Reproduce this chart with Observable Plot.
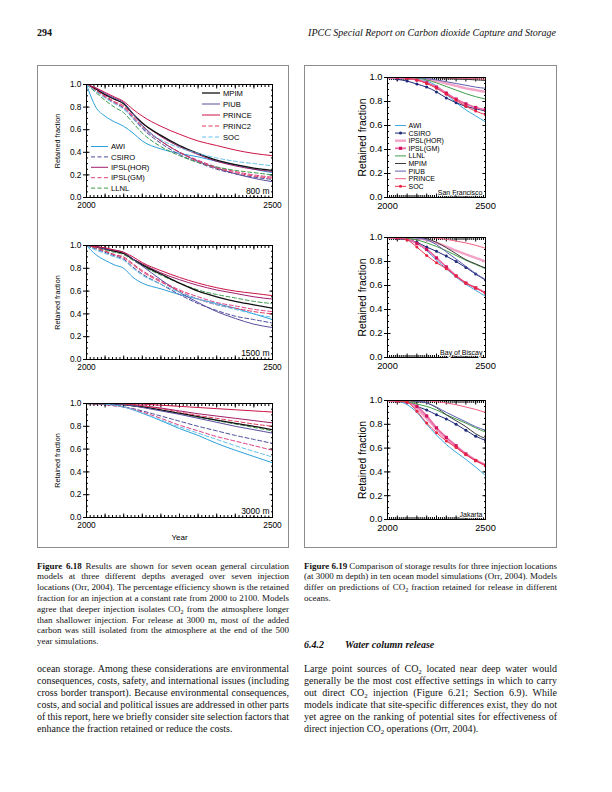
<!DOCTYPE html>
<html><head><meta charset="utf-8">
<script src="https://cdn.jsdelivr.net/npm/d3@7"></script>
<script src="https://cdn.jsdelivr.net/npm/@observablehq/plot@0.6"></script>
<style>
body{margin:0;background:#fff;width:612px;height:792px;position:relative;overflow:hidden;font-family:"Liberation Serif","Times New Roman",serif;color:#111}
.box{position:absolute;border:1px solid #8c8c8c;box-sizing:border-box}
sub{font-size:0.68em;vertical-align:-0.3em;line-height:0}
</style></head><body>
<script>
// ---------- DATA ----------
const years18 = [2000, 2025, 2050, 2075, 2100, 2125, 2150, 2200, 2250, 2300, 2350, 2400, 2450, 2500];
const models18 = ["AWI","CSIRO","IPSL(HOR)","IPSL(GM)","LLNL","MPIM","PIUB","PRINCE","PRINC2","SOC"];
const r800 = [
 [1.0,0.80,0.72,0.67,0.63,0.57,0.50,0.43,0.39,0.36,0.32,0.29,0.25,0.22],
 [1.0,0.95,0.89,0.84,0.79,0.70,0.61,0.48,0.38,0.31,0.25,0.21,0.18,0.16],
 [1.0,0.96,0.91,0.87,0.83,0.74,0.66,0.54,0.45,0.38,0.32,0.28,0.25,0.23],
 [1.0,0.95,0.89,0.84,0.80,0.71,0.62,0.50,0.40,0.33,0.27,0.23,0.20,0.18],
 [1.0,0.93,0.86,0.80,0.75,0.66,0.57,0.45,0.37,0.31,0.27,0.24,0.22,0.20],
 [1.0,0.96,0.91,0.87,0.83,0.74,0.66,0.55,0.46,0.39,0.33,0.29,0.26,0.24],
 [1.0,0.97,0.92,0.88,0.84,0.74,0.64,0.50,0.40,0.32,0.26,0.21,0.17,0.14],
 [1.0,0.97,0.93,0.89,0.85,0.78,0.72,0.63,0.56,0.50,0.46,0.42,0.39,0.37],
 [1.0,0.95,0.90,0.85,0.81,0.72,0.63,0.50,0.40,0.32,0.26,0.22,0.19,0.17],
 [1.0,0.94,0.88,0.83,0.78,0.70,0.62,0.51,0.44,0.39,0.35,0.32,0.30,0.28]
];
const r1500 = [
 [1.0,0.92,0.87,0.83,0.80,0.72,0.67,0.62,0.57,0.53,0.49,0.45,0.40,0.35],
 [1.0,0.97,0.94,0.91,0.88,0.81,0.75,0.66,0.57,0.49,0.43,0.38,0.35,0.32],
 [1.0,0.99,0.97,0.95,0.93,0.88,0.84,0.76,0.70,0.65,0.61,0.58,0.55,0.53],
 [1.0,0.98,0.95,0.92,0.90,0.84,0.78,0.69,0.61,0.55,0.50,0.47,0.44,0.42],
 [1.0,0.98,0.96,0.94,0.92,0.87,0.82,0.74,0.67,0.61,0.57,0.54,0.51,0.49],
 [1.0,0.99,0.97,0.95,0.93,0.88,0.83,0.75,0.67,0.60,0.55,0.51,0.48,0.45],
 [1.0,0.99,0.97,0.96,0.94,0.88,0.82,0.70,0.59,0.50,0.42,0.36,0.31,0.28],
 [1.0,0.99,0.98,0.96,0.94,0.90,0.85,0.78,0.72,0.67,0.63,0.60,0.58,0.56],
 [1.0,0.98,0.95,0.92,0.89,0.83,0.77,0.68,0.60,0.53,0.48,0.45,0.42,0.40],
 [1.0,0.96,0.93,0.90,0.87,0.80,0.74,0.66,0.59,0.53,0.48,0.44,0.40,0.37]
];
const r3000 = [
 [1.0,1.0,0.995,0.985,0.97,0.945,0.915,0.85,0.78,0.72,0.65,0.59,0.535,0.48],
 [1.0,0.995,0.99,0.98,0.97,0.955,0.935,0.89,0.845,0.80,0.76,0.72,0.685,0.65],
 [1.0,1.0,1.0,1.0,0.995,0.99,0.98,0.96,0.935,0.91,0.89,0.87,0.85,0.83],
 [1.0,0.995,0.99,0.98,0.97,0.95,0.925,0.87,0.81,0.76,0.71,0.67,0.63,0.59],
 [1.0,1.0,1.0,0.995,0.99,0.98,0.97,0.94,0.91,0.88,0.85,0.82,0.79,0.76],
 [1.0,1.0,1.0,0.995,0.99,0.98,0.97,0.945,0.915,0.885,0.855,0.825,0.80,0.77],
 [1.0,1.0,1.0,0.995,0.99,0.98,0.965,0.935,0.905,0.87,0.835,0.80,0.77,0.74],
 [1.0,1.0,1.0,1.0,1.0,0.998,0.995,0.985,0.975,0.965,0.955,0.945,0.935,0.925],
 [1.0,1.0,1.0,1.0,0.995,0.99,0.98,0.955,0.925,0.895,0.87,0.845,0.82,0.80],
 [1.0,1.0,0.995,0.985,0.97,0.945,0.915,0.855,0.795,0.74,0.685,0.63,0.58,0.53]
];
const years19 = [2000, 2050, 2100, 2150, 2200, 2250, 2300, 2350, 2400, 2450, 2500];
const models19 = ["AWI","CSIRO","IPSL(HOR)","IPSL(GM)","LLNL","MPIM","PIUB","PRINCE","SOC"];
const rSanFrancisco = [
 [1.0,1.0,0.998,0.99,0.97,0.93,0.86,0.79,0.73,0.68,0.63],
 [1.0,0.985,0.97,0.945,0.92,0.88,0.83,0.79,0.76,0.74,0.72],
 [1.0,1.0,1.0,0.995,0.985,0.97,0.95,0.93,0.91,0.895,0.88],
 [1.0,1.0,0.995,0.98,0.955,0.92,0.87,0.82,0.78,0.75,0.73],
 [1.0,1.0,1.0,0.995,0.98,0.955,0.925,0.895,0.865,0.84,0.82],
 [1.0,1.0,1.0,1.0,1.0,0.998,0.995,0.99,0.985,0.98,0.975],
 [1.0,1.0,1.0,0.998,0.99,0.98,0.965,0.95,0.935,0.92,0.91],
 [1.0,1.0,1.0,1.0,1.0,1.0,0.998,0.995,0.993,0.99,0.985],
 [1.0,1.0,0.995,0.98,0.95,0.91,0.86,0.81,0.76,0.72,0.69]
];
const rBiscay = [
 [1.0,0.995,0.98,0.95,0.89,0.81,0.74,0.67,0.61,0.56,0.51],
 [1.0,0.99,0.985,0.96,0.92,0.885,0.845,0.80,0.75,0.695,0.645],
 [1.0,1.0,1.0,0.995,0.98,0.955,0.925,0.89,0.86,0.83,0.80],
 [1.0,1.0,0.99,0.95,0.90,0.83,0.755,0.68,0.62,0.58,0.54],
 [1.0,1.0,0.995,0.98,0.955,0.925,0.89,0.85,0.81,0.775,0.74],
 [1.0,1.0,1.0,1.0,0.99,0.96,0.915,0.865,0.815,0.78,0.745],
 [1.0,1.0,1.0,0.995,0.98,0.94,0.88,0.82,0.76,0.70,0.65],
 [1.0,1.0,1.0,1.0,1.0,0.995,0.985,0.97,0.955,0.935,0.91],
 [1.0,0.995,0.98,0.92,0.85,0.79,0.74,0.68,0.62,0.58,0.535]
];
const rJakarta = [
 [1.0,0.995,0.965,0.90,0.80,0.71,0.63,0.565,0.505,0.44,0.37],
 [1.0,0.995,0.985,0.95,0.92,0.88,0.845,0.80,0.75,0.70,0.665],
 [1.0,1.0,0.99,0.93,0.85,0.76,0.68,0.61,0.55,0.50,0.46],
 [1.0,1.0,0.99,0.95,0.87,0.77,0.69,0.62,0.55,0.495,0.455],
 [1.0,1.0,0.99,0.97,0.95,0.92,0.88,0.845,0.81,0.77,0.735],
 [1.0,1.0,1.0,0.995,0.98,0.94,0.88,0.83,0.78,0.72,0.68],
 [1.0,1.0,1.0,0.995,0.98,0.945,0.90,0.86,0.82,0.78,0.75],
 [1.0,1.0,1.0,1.0,0.998,0.99,0.98,0.965,0.945,0.925,0.90],
 [1.0,0.995,0.985,0.91,0.81,0.73,0.66,0.605,0.545,0.495,0.455]
];
const yTicks = [0, 0.2, 0.4, 0.6, 0.8, 1.0];
const xLabelTicks = [2000, 2500];
const legend18A = ["AWI","CSIRO","IPSL(HOR)","IPSL(GM)","LLNL"];
const legend18B = ["MPIM","PIUB","PRINCE","PRINC2","SOC"];

const headerLeft = "294";
const headerRight = "IPCC Special Report on Carbon dioxide Capture and Storage";
const caption18 = [
 "<b>Figure 6.18</b> Results are shown for seven ocean general circulation",
 "models at three different depths averaged over seven injection",
 "locations (Orr, 2004). The percentage efficiency shown is the retained",
 "fraction for an injection at a constant rate from 2000 to 2100. Models",
 "agree that deeper injection isolates CO<sub>2</sub> from the atmosphere longer",
 "than shallower injection. For release at 3000 m, most of the added",
 "carbon was still isolated from the atmosphere at the end of the 500",
 "year simulations."
];
const caption19 = [
 "<b>Figure 6.19</b> Comparison of storage results for three injection locations",
 "(at 3000 m depth) in ten ocean model simulations (Orr, 2004). Models",
 "differ on predictions of CO<sub>2</sub> fraction retained for release in different",
 "oceans."
];
const bodyLeft = [
 "ocean storage. Among these considerations are environmental",
 "consequences, costs, safety, and international issues (including",
 "cross border transport). Because environmental consequences,",
 "costs, and social and political issues are addressed in other parts",
 "of this report, here we briefly consider site selection factors that",
 "enhance the fraction retained or reduce the costs."
];
const bodyRight = [
 "Large point sources of CO<sub>2</sub> located near deep water would",
 "generally be the most cost effective settings in which to carry",
 "out direct CO<sub>2</sub> injection (Figure 6.21; Section 6.9). While",
 "models indicate that site-specific differences exist, they do not",
 "yet agree on the ranking of potential sites for effectiveness of",
 "direct injection CO<sub>2</sub> operations (Orr, 2004)."
];

// ---------- STYLES ----------
const DASH = "4,2.5";
const styles18 = {
 "AWI": {c:"#2ba0da", w:1},
 "CSIRO": {c:"#4a4a9a", w:1, d:DASH},
 "IPSL(HOR)": {c:"#a01d6c", w:1},
 "IPSL(GM)": {c:"#dc3f83", w:1, d:DASH},
 "LLNL": {c:"#3c9a4c", w:1, d:DASH},
 "MPIM": {c:"#111111", w:1.3},
 "PIUB": {c:"#5a4e9e", w:1},
 "PRINCE": {c:"#cc1548", w:1},
 "PRINC2": {c:"#e2375c", w:1, d:DASH},
 "SOC": {c:"#62c0ea", w:1, d:DASH}
};
const styles19 = {
 "AWI": {c:"#3aa8e0", w:1},
 "CSIRO": {c:"#1e2a78", w:1, mk:{r:1.5, c:"#1e2a78", sym:"circle"}},
 "IPSL(HOR)": {c:"#f3a3c7", w:2.4},
 "IPSL(GM)": {c:"#ea6aa5", w:1.8, mk:{r:1.8, c:"#d0125c", sym:"square"}},
 "LLNL": {c:"#3f9f4a", w:1},
 "MPIM": {c:"#3c3c3c", w:1},
 "PIUB": {c:"#5f5fae", w:1},
 "PRINCE": {c:"#f06080", w:1},
 "SOC": {c:"#e8334f", w:1, mk:{r:1.5, c:"#e8223f", sym:"circle"}}
};
const SANS = "'Liberation Sans', Arial, Helvetica, sans-serif";

// ---------- FIGURE BOXES ----------
function box(l, t, w, h) {
  const d = document.createElement("div");
  d.className = "box";
  Object.assign(d.style, {left: l + "px", top: t + "px", width: w + "px", height: h + "px"});
  document.body.appendChild(d);
}
box(37, 65, 252, 483);
box(304, 65, 253, 483);

// ---------- PANELS ----------
function panel(cfg) {
  const {left, top, width, height, fx0, fx1, fy0, fy1, years, models, values, styles} = cfg;
  const hide = () => "";
  const minorX = d3.range(2000, 2501, 10), majorX = d3.range(2000, 2501, 50);
  const minorY = d3.range(0, 1.0001, 0.05);
  const marks = [];
  for (const a of ["top", "bottom"]) {
    marks.push(Plot.axisX(minorX, {anchor: a, tickSize: -2, tickFormat: hide, label: null}));
    marks.push(Plot.axisX(majorX, {anchor: a, tickSize: -3.5, tickFormat: hide, label: null}));
  }
  for (const a of ["left", "right"]) {
    marks.push(Plot.axisY(minorY, {anchor: a, tickSize: -2, tickFormat: hide, label: null}));
    marks.push(Plot.axisY(yTicks, {anchor: a, tickSize: -3.5, tickFormat: hide, label: null}));
  }
  marks.push(Plot.axisY(yTicks, {anchor: "left", tickSize: 3, tickPadding: 2, tickFormat: d3.format(".1f"), label: null, fontSize: cfg.tickFont}));
  marks.push(Plot.axisX(xLabelTicks, {anchor: "bottom", tickSize: 0, tickPadding: cfg.xPad, tickFormat: d3.format("d"), label: null, fontSize: cfg.tickFont}));
  models.forEach((m, i) => {
    const s = styles[m];
    const data = years.map((yr, j) => ({yr, v: values[i][j]}));
    marks.push(Plot.line(data, {x: "yr", y: "v", stroke: s.c, strokeWidth: s.w, strokeDasharray: s.d, curve: "monotone-x", clip: true}));
    if (s.mk) marks.push(Plot.dot(data.filter(d => d.yr > 2000), {x: "yr", y: "v", r: s.mk.r, fill: s.mk.c, symbol: s.mk.sym, clip: true}));
  });
  marks.push(Plot.frame({stroke: "#000", strokeWidth: 1}));
  marks.push(Plot.text([cfg.tag], {frameAnchor: "bottom-right", text: d => d, dx: -3, dy: cfg.tagDy, fontSize: cfg.tagFont, fill: "#000", stroke: "#fff", strokeWidth: cfg.tagHalo, paintOrder: "stroke", lineAnchor: "bottom", textAnchor: "end"}));
  marks.push(Plot.text(["Retained fraction"], {frameAnchor: "left", text: d => d, rotate: -90, dx: cfg.ylabDx, fontSize: cfg.ylabFont, fill: "#000", textAnchor: "middle", lineAnchor: "middle"}));
  if (cfg.xlab) marks.push(Plot.text([cfg.xlab], {frameAnchor: "bottom", text: d => d, dy: cfg.xlabDy, fontSize: cfg.xlabFont, fill: "#000", textAnchor: "middle"}));
  const svg = Plot.plot({
    width, height,
    marginLeft: fx0 - left, marginRight: left + width - fx1,
    marginTop: fy0 - top, marginBottom: top + height - fy1,
    x: {domain: [2000, 2500]}, y: {domain: [0, 1]},
    style: {fontFamily: SANS, fontSize: cfg.tickFont + "px", background: "none", color: "#000", overflow: "visible"},
    marks
  });
  Object.assign(svg.style, {position: "absolute", left: left + "px", top: top + "px"});
  document.body.appendChild(svg);
}

const L = {left: 38, width: 250, fx0: 86, fx1: 272, years: years18, models: models18, styles: styles18,
  tickFont: 8.3, ylabFont: 7.2, ylabDx: -29, tagFont: 8.5, tagDy: -4, tagHalo: 3, xPad: 5};
panel({...L, top: 66, height: 150, fy0: 84, fy1: 197, values: r800, tag: "800 m"});
panel({...L, top: 228, height: 150, fy0: 245, fy1: 359, values: r1500, tag: "1500 m"});
panel({...L, top: 388, height: 158, fy0: 403, fy1: 517, values: r3000, tag: "3000 m", xlab: "Year", xlabDy: 22, xlabFont: 8});

const R = {left: 305, width: 250, fx0: 387, fx1: 485, years: years19, models: models19, styles: styles19,
  tickFont: 9.3, ylabFont: 10.3, ylabDx: -25, tagFont: 7, tagDy: -2.5, tagHalo: 2, xPad: 5};
panel({...R, top: 66, height: 150, fy0: 77, fy1: 197, values: rSanFrancisco, tag: "San Francisco"});
panel({...R, top: 226, height: 150, fy0: 237, fy1: 357, values: rBiscay, tag: "Bay of Biscay"});
panel({...R, top: 388, height: 150, fy0: 400, fy1: 519, values: rJakarta, tag: "Jakarta"});

// ---------- LEGENDS ----------
const ov = d3.select(document.body).append("svg")
  .attr("width", 612).attr("height", 792)
  .style("position", "absolute").style("left", "0px").style("top", "0px");
function legend(items, styles, o) {
  items.forEach((m, i) => {
    const s = styles[m], y = o.y0 + i * o.dy;
    ov.append("line").attr("x1", o.x1).attr("x2", o.x2).attr("y1", y).attr("y2", y)
      .attr("stroke", s.c).attr("stroke-width", s.w).attr("stroke-dasharray", s.d || null);
    if (s.mk) {
      const cx = (o.x1 + o.x2) / 2;
      if (s.mk.sym === "square") ov.append("rect").attr("x", cx - 1.6).attr("y", y - 1.6).attr("width", 3.2).attr("height", 3.2).attr("fill", s.mk.c);
      else ov.append("circle").attr("cx", cx).attr("cy", y).attr("r", s.mk.r).attr("fill", s.mk.c);
    }
    ov.append("text").attr("x", o.tx).attr("y", y).attr("dy", "0.35em")
      .attr("font-family", SANS).attr("font-size", o.fs).attr("fill", "#000").text(m);
  });
}
legend(legend18A, styles18, {x1: 91, x2: 108, tx: 111, y0: 146.5, dy: 10.4, fs: 7.6});
legend(legend18B, styles18, {x1: 202, x2: 220, tx: 223, y0: 93, dy: 11, fs: 7.6});
legend(models19, styles19, {x1: 395, x2: 406, tx: 408.5, y0: 125.5, dy: 7.6, fs: 7});

// ---------- TEXT ----------
function put(html, left, cy, lh, fs, extra) {
  const d = document.createElement("div");
  d.style.cssText = `position:absolute;left:${left}px;top:${cy - lh / 2}px;height:${lh}px;line-height:${lh}px;font-size:${fs}px;white-space:nowrap;` + (extra || "");
  d.innerHTML = html;
  document.body.appendChild(d);
  return d;
}
function block(lines, o) {
  lines.forEach((html, i) => {
    const d = put(html, o.left, o.cy0 + i * o.lh, o.lh, o.fs);
    if (i < lines.length - 1) {
      const w = d.getBoundingClientRect().width;
      const n = (d.textContent.match(/ /g) || []).length;
      if (n) d.style.wordSpacing = ((o.width - w) / n) + "px";
    }
  });
}
put(`<b>${headerLeft}</b>`, 37, 33, 12, 10);
const hr = put(`<i>${headerRight}</i>`, 0, 33, 12, 10);
hr.style.left = (556 - hr.getBoundingClientRect().width) + "px";

block(caption18, {left: 37, width: 252, cy0: 566, lh: 10.8, fs: 9});
block(caption19, {left: 304, width: 253, cy0: 566, lh: 10.8, fs: 9});
block(bodyLeft, {left: 37, width: 252, cy0: 669, lh: 12, fs: 10});
block(bodyRight, {left: 304, width: 253, cy0: 669, lh: 12, fs: 10});
put("<b><i>6.4.2</i></b>", 304, 645, 12, 10);
put("<b><i>Water column release</i></b>", 345, 645, 12, 10);
</script>
</body></html>
